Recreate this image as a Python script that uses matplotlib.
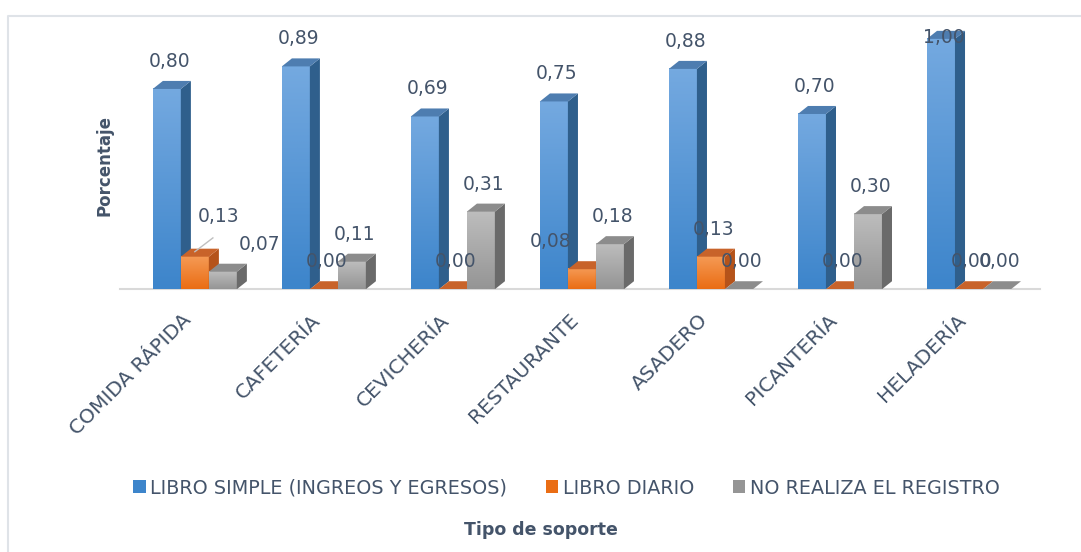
import matplotlib.pyplot as plt
import numpy as np
from matplotlib.patches import Polygon, Rectangle
from matplotlib.colors import LinearSegmentedColormap
from matplotlib.lines import Line2D

categorias = ['COMIDA RÁPIDA', 'CAFETERÍA', 'CEVICHERÍA', 'RESTAURANTE',
              'ASADERO', 'PICANTERÍA', 'HELADERÍA']
series = ['LIBRO SIMPLE (INGREOS Y EGRESOS)', 'LIBRO DIARIO', 'NO REALIZA EL REGISTRO']
libro_simple = [0.80, 0.89, 0.69, 0.75, 0.88, 0.70, 1.00]
libro_diario = [0.13, 0.00, 0.00, 0.08, 0.13, 0.00, 0.00]
no_registro = [0.07, 0.11, 0.31, 0.18, 0.00, 0.30, 0.00]
valores = [libro_simple, libro_diario, no_registro]

# front gradient (top, bottom), side, top colours
estilos = [
    dict(front=('#74a9e0', '#3d85cb'), side='#2f5f8c', top='#4e7db0'),
    dict(front=('#f59a55', '#ea6d14'), side='#b5531a', top='#c8632a'),
    dict(front=('#bdbdbd', '#959595'), side='#6a6a6a', top='#8c8c8c'),
]
txt = '#44546A'

fig = plt.figure(figsize=(10.81, 5.52), dpi=100)
ax = fig.add_axes([0.111, 0.476, 0.851, 0.479])
ax.set_xlim(-0.58, 6.55)
ax.set_ylim(0, 1.056)
ax.axis('off')

w = 0.217
dx, dy = 0.078, 0.032

z = 2
for i in range(len(categorias)):
    for k in range(3):
        v = valores[k][i]
        x0 = i + (k - 1.5) * w
        st = estilos[k]
        cmap = LinearSegmentedColormap.from_list('g', [st['front'][1], st['front'][0]])
        if v > 0:
            grad = np.linspace(0, 1, 64).reshape(-1, 1)
            ax.imshow(grad, extent=[x0, x0 + w, 0, v], origin='lower', cmap=cmap,
                      aspect='auto', zorder=z, interpolation='bilinear')
        side = Polygon([(x0 + w, 0), (x0 + w + dx, dy), (x0 + w + dx, v + dy), (x0 + w, v)],
                       closed=True, facecolor=st['side'], edgecolor='none', zorder=z)
        top = Polygon([(x0, v), (x0 + dx, v + dy), (x0 + w + dx, v + dy), (x0 + w, v)],
                      closed=True, facecolor=st['top'], edgecolor='none', zorder=z + 0.5)
        ax.add_patch(side)
        ax.add_patch(top)
        z += 1

# baseline
ax.plot([-0.58, 6.55], [0, 0], color='#d9d9d9', lw=1.5, zorder=1, clip_on=False)

# data labels
ajustes = {(0, 1): (0.16, 0.05), (0, 2): (0.26, 0.0), (3, 1): (-0.27, 0.0),
           (6, 0): (0.0, -0.105)}
for i in range(len(categorias)):
    for k in range(3):
        v = valores[k][i]
        xc = i + (k - 1.0) * w + dx / 2 - 0.015
        ox, oy = ajustes.get((i, k), (0, 0))
        ax.text(xc + ox, v + 0.11 + oy, f'{v:.2f}'.replace('.', ','), ha='center', va='center',
                fontsize=13.5, color=txt, zorder=100)
# leader line for 0,13
ax.plot([0.0, 0.14], [0.15, 0.205], color='#bfbfbf', lw=1, zorder=99)

# category labels
for i, c in enumerate(categorias):
    ax.text(i - 0.10, -0.085, c, rotation=45, rotation_mode='anchor', ha='right', va='top',
            fontsize=14.5, color=txt)

fig.text(0.097, 1 - 165 / 552, 'Porcentaje', rotation=90, ha='center', va='center',
         fontsize=12, fontweight='bold', color=txt)

handles = [Rectangle((0, 0), 1, 1, facecolor=st['front'][1]) for st in estilos]
fig.legend(handles, series, loc='center', bbox_to_anchor=(0.524, 1 - 488 / 552), ncol=3,
           frameon=False, fontsize=13.8, handlelength=0.65, handleheight=0.65,
           handletextpad=0.25, columnspacing=2.0, labelcolor=txt)

fig.text(0.5, 1 - 530 / 552, 'Tipo de soporte', ha='center', va='center',
         fontsize=12.5, fontweight='bold', color=txt)

# chart frame (left and top edges only)
fig.lines.append(Line2D([8 / 1081, 8 / 1081, 1.0], [0.0, 1 - 16 / 552, 1 - 16 / 552],
                        transform=fig.transFigure, color='#dfe3e8', lw=1.5))

fig.savefig('out.png', dpi=100)
